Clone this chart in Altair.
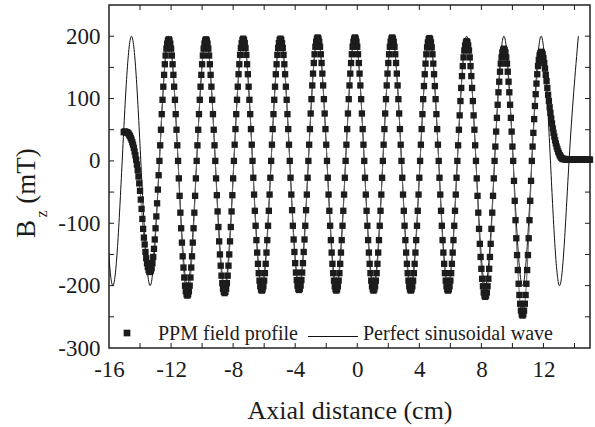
import altair as alt
import pandas as pd
import numpy as np

# ---------------- data ----------------
# Perfect sinusoidal wave: extrema and zero crossings (x in cm, Bz in mT)
sine_x = [-16.35, -15.75, -15.15, -14.55, -13.95, -13.35, -12.75, -12.15, -11.55, -10.95,
          -10.35, -9.75, -9.15, -8.55, -7.95, -7.35, -6.75, -6.15, -5.55, -4.95,
          -4.35, -3.75, -3.15, -2.55, -1.95, -1.35, -0.75, -0.15, 0.45, 1.05,
          1.65, 2.25, 2.85, 3.45, 4.05, 4.65, 5.25, 5.85, 6.45, 7.05,
          7.65, 8.25, 8.85, 9.45, 10.05, 10.65, 11.25, 11.85, 12.45, 13.05,
          13.65, 14.25]
sine_y = [0, -200, 0, 200, 0, -200, 0, 200, 0, -200,
          0, 200, 0, -200, 0, 200, 0, -200, 0, 200,
          0, -200, 0, 200, 0, -200, 0, 200, 0, -200,
          0, 200, 0, -200, 0, 200, 0, -200, 0, 200,
          0, -200, 0, 200, 0, -200, 0, 200, 0, -200,
          0, 200]

# PPM field profile: samples every 0.05 cm starting at x = -15.05 cm
ppm_x0 = -15.05
ppm_dx = 0.05
ppm_start = [46, 47, 47, 46, 46, 45, 44, 42, 40, 37, 34, 30, 26, 21, 15, 9, 2, -6, -15, -25,
             -36, -48, -62, -77, -93, -109, -123, -134, -146, -156, -164, -170, -175, -178]
h01 = [-178, -176, -172, -164, -154, -141, -126, -108, -89, -68, -46, -23, 0, 25, 50, 75, 98, 119, 138, 155, 169, 180, 188, 193]
h02 = [195, 193, 188, 180, 169, 155, 138, 119, 98, 75, 50, 25, 0, -28, -56, -83, -108, -131, -153, -171, -187, -200, -209, -214]
h03 = [-216, -214, -209, -200, -187, -171, -153, -131, -108, -83, -56, -28, 0, 25, 50, 75, 98, 119, 138, 155, 169, 180, 188, 193]
h04 = [195, 193, 188, 180, 169, 155, 138, 119, 98, 75, 50, 25, 0, -28, -55, -81, -106, -129, -150, -168, -184, -196, -205, -210]
h05 = [-212, -210, -205, -196, -184, -168, -150, -129, -106, -81, -55, -28, 0, 26, 51, 75, 98, 119, 139, 155, 170, 181, 189, 194]
h06 = [196, 194, 189, 181, 170, 155, 139, 119, 98, 75, 51, 26, 0, -27, -54, -80, -104, -127, -147, -165, -180, -192, -201, -206]
h07 = [-208, -206, -201, -192, -180, -165, -147, -127, -104, -80, -54, -27, 0, 26, 51, 75, 98, 119, 139, 155, 170, 181, 189, 194]
h08 = [196, 194, 189, 181, 170, 155, 139, 119, 98, 75, 51, 26, 0, -27, -54, -79, -104, -126, -146, -164, -179, -191, -200, -205]
h09 = [-207, -205, -200, -191, -179, -164, -146, -126, -104, -79, -54, -27, 0, 26, 51, 76, 99, 121, 140, 157, 171, 183, 191, 196]
h10 = [198, 196, 191, 183, 171, 157, 140, 121, 99, 76, 51, 26, 0, -27, -54, -80, -104, -127, -147, -165, -180, -192, -201, -206]
h11 = [-208, -206, -201, -192, -180, -165, -147, -127, -104, -80, -54, -27, 0, 26, 51, 76, 99, 121, 140, 157, 171, 183, 191, 196]
h12 = [198, 196, 191, 183, 171, 157, 140, 121, 99, 76, 51, 26, 0, -27, -54, -80, -104, -127, -147, -165, -180, -192, -201, -206]
h13 = [-208, -206, -201, -192, -180, -165, -147, -127, -104, -80, -54, -27, 0, 26, 51, 76, 99, 121, 140, 157, 171, 183, 191, 196]
h14 = [198, 196, 191, 183, 171, 157, 140, 121, 99, 76, 51, 26, 0, -27, -54, -80, -104, -127, -147, -165, -180, -192, -201, -206]
h15 = [-208, -206, -201, -192, -180, -165, -147, -127, -104, -80, -54, -27, 0, 26, 51, 75, 99, 120, 139, 156, 171, 182, 190, 195]
h16 = [197, 195, 190, 182, 171, 156, 139, 120, 99, 75, 51, 26, 0, -27, -54, -80, -104, -127, -147, -165, -180, -192, -201, -206]
h17 = [-208, -206, -201, -192, -180, -165, -147, -127, -104, -80, -54, -27, 0, 25, 50, 73, 96, 117, 136, 152, 166, 177, 185, 190]
h18 = [192, 190, 185, 177, 166, 152, 136, 117, 96, 73, 50, 25, 0, -28, -56, -83, -109, -133, -154, -173, -189, -201, -211, -216]
h19 = [-218, -216, -211, -201, -189, -173, -154, -133, -109, -83, -56, -28, 0, 23, 47, 69, 90, 110, 127, 143, 156, 166, 174, 178]
h20 = [180, 178, 174, 166, 156, 143, 127, 110, 90, 69, 47, 23, 0, -32, -64, -95, -124, -151, -175, -197, -215, -229, -240, -246]
h21 = [-248, -246, -240, -229, -215, -197, -175, -151, -124, -95, -64, -32, 0, 23, 45, 67, 88, 107, 124, 139, 152, 162, 169, 173]
ppm_tail = [175, 174, 171, 165, 157, 148, 138, 128, 117, 106, 96, 86, 77, 68, 60, 52, 45, 39, 33, 28,
            23, 19, 15, 12, 9, 7, 5, 4, 3, 3]
ppm_flat = [3, 3, 2, 2, 2, 2, 2, 2, 2, 2, 2, 2, 2, 2, 2, 2, 2, 2, 2, 2,
            2, 2, 2, 2, 2, 2, 2, 2, 2, 2, 2, 2, 2, 2]

# axis tick values
x_label_values = [-16, -12, -8, -4, 0, 4, 8, 12]
x_tick_values = [-14, -12, -10, -8, -6, -4, -2, 0, 2, 4, 6, 8, 10, 12, 14]
y_label_values = [-300, -200, -100, 0, 100, 200]
y_tick_values = [-250, -200, -150, -100, -50, 0, 50, 100, 150, 200]

# ---------------- build tables ----------------
ppm_y = (ppm_start + h01 + h02 + h03 + h04 + h05 + h06 + h07 + h08 + h09 + h10 + h11 + h12
         + h13 + h14 + h15 + h16 + h17 + h18 + h19 + h20 + h21 + ppm_tail + ppm_flat)
ppm_x = np.round(ppm_x0 + ppm_dx * np.arange(len(ppm_y)), 2)
ppm_df = pd.DataFrame({"x": ppm_x, "y": ppm_y})
sine_df = pd.DataFrame({"x": sine_x, "y": sine_y})
xt_df = pd.DataFrame({"x": x_tick_values})
yt_df = pd.DataFrame({"y": y_tick_values})
one = pd.DataFrame({"a": [0]})

W, H = 481, 343
FONT = "Liberation Serif"
INK = "#1c1c1c"
TL = 5  # tick length
HYPHEN = "datum.value < 0 ? '-' + (-datum.value) : '' + datum.value"

xs = alt.Scale(domain=[-16, 15], nice=False, zero=False)
ys = alt.Scale(domain=[-300, 250], nice=False, zero=False)
X = alt.X("x:Q", scale=xs, axis=alt.Axis(values=x_label_values, title="Axial distance (cm)",
                                          labelPadding=10, titlePadding=16, labelFlush=False,
                                          labelExpr=HYPHEN))
Y = alt.Y("y:Q", scale=ys, axis=alt.Axis(values=y_label_values, title=None, labelPadding=9,
                                          labelFlush=False, labelExpr=HYPHEN))

sine = alt.Chart(sine_df).mark_line(color="#111111", strokeWidth=1, interpolate="natural",
                                    clip=True).encode(x=X, y=Y)
ppm_line = alt.Chart(ppm_df).mark_line(color="#666666", strokeWidth=1).encode(x=X, y=Y)
ppm_pts = alt.Chart(ppm_df).mark_square(size=40, color=INK, opacity=1).encode(x=X, y=Y)

tick_b = alt.Chart(xt_df).mark_rule(color=INK, strokeWidth=1).encode(
    x=X, y=alt.value(H), y2=alt.value(H - TL))
tick_t = alt.Chart(xt_df).mark_rule(color=INK, strokeWidth=1).encode(
    x=X, y=alt.value(0), y2=alt.value(TL))
tick_l = alt.Chart(yt_df).mark_rule(color=INK, strokeWidth=1).encode(
    y=Y, x=alt.value(0), x2=alt.value(TL))
tick_r = alt.Chart(yt_df).mark_rule(color=INK, strokeWidth=1).encode(
    y=Y, x=alt.value(W), x2=alt.value(W - TL))

# y-axis title B_z (mT) built from pieces
yt_B = alt.Chart(one).mark_text(font=FONT, fontSize=27, angle=270, color=INK,
                                align="center", baseline="middle").encode(
    x=alt.value(-82), y=alt.value(224), text=alt.value("B"))
yt_z = alt.Chart(one).mark_text(font=FONT, fontSize=16, angle=270, color=INK,
                                align="center", baseline="middle").encode(
    x=alt.value(-67), y=alt.value(209), text=alt.value("z"))
yt_u = alt.Chart(one).mark_text(font=FONT, fontSize=27, angle=270, color=INK,
                                align="center", baseline="middle").encode(
    x=alt.value(-82), y=alt.value(171), text=alt.value("(mT)"))

# legend
lg_sq = alt.Chart(one).mark_square(size=45, color=INK, opacity=1).encode(
    x=alt.value(18), y=alt.value(328))
lg_t1 = alt.Chart(one).mark_text(font=FONT, fontSize=20, color=INK, align="left",
                                 baseline="alphabetic").encode(
    x=alt.value(49), y=alt.value(335), text=alt.value("PPM field profile"))
lg_ln = alt.Chart(one).mark_rule(color="#111111", strokeWidth=1).encode(
    x=alt.value(199), x2=alt.value(249), y=alt.value(331.5))
lg_t2 = alt.Chart(one).mark_text(font=FONT, fontSize=20, color=INK, align="left",
                                 baseline="alphabetic").encode(
    x=alt.value(254), y=alt.value(335), text=alt.value("Perfect sinusoidal wave"))

chart = alt.layer(
    sine, ppm_line, ppm_pts, tick_b, tick_t, tick_l, tick_r,
    yt_B, yt_z, yt_u, lg_sq, lg_t1, lg_ln, lg_t2
).properties(
    width=W, height=H,
    padding={"left": 109, "top": 5, "right": 5, "bottom": 79},
    autosize=alt.AutoSizeParams(type="none"),
    background="white",
).configure_view(
    stroke="#222222", strokeWidth=1.5
).configure_axis(
    domain=False, ticks=False, grid=False,
    labelFont=FONT, labelFontSize=23, labelColor=INK,
    titleFont=FONT, titleFontSize=26, titleFontWeight="normal", titleColor=INK,
)

chart.save("out.html", embed_options={"renderer": "svg", "actions": False})
